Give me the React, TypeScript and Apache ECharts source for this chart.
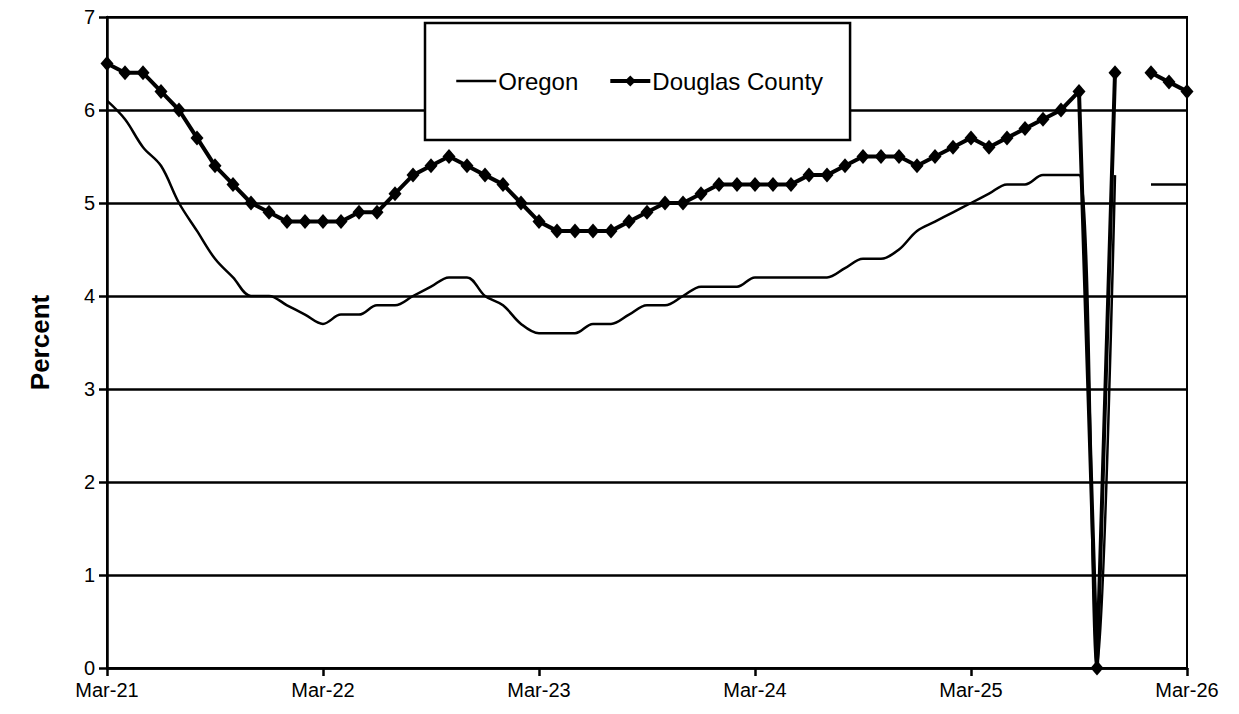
import React, { useEffect, useRef } from "react";
import * as echarts from "echarts";

const monthNames = ["Mar", "Apr", "May", "Jun", "Jul", "Aug", "Sep", "Oct", "Nov", "Dec", "Jan", "Feb"];
const startYear = 21;
const monthCount = 61;

const categories: string[] = [];
for (let i = 0; i < monthCount; i++) {
  const m = i % 12;
  const y = startYear + Math.floor(i / 12) + (m >= 10 ? 1 : 0);
  categories.push(`${monthNames[m]}-${y}`);
}

const oregon: (number | null)[] = [
  6.1, 5.9, 5.6, 5.4, 5.0, 4.7, 4.4, 4.2, 4.0, 4.0, 3.9, 3.8,
  3.7, 3.8, 3.8, 3.9, 3.9, 4.0, 4.1, 4.2, 4.2, 4.0, 3.9, 3.7,
  3.6, 3.6, 3.6, 3.7, 3.7, 3.8, 3.9, 3.9, 4.0, 4.1, 4.1, 4.1,
  4.2, 4.2, 4.2, 4.2, 4.2, 4.3, 4.4, 4.4, 4.5, 4.7, 4.8, 4.9,
  5.0, 5.1, 5.2, 5.2, 5.3, 5.3, 5.3, 0, 5.3, null, 5.2, 5.2,
  5.2,
];

const douglas: (number | null)[] = [
  6.5, 6.4, 6.4, 6.2, 6.0, 5.7, 5.4, 5.2, 5.0, 4.9, 4.8, 4.8,
  4.8, 4.8, 4.9, 4.9, 5.1, 5.3, 5.4, 5.5, 5.4, 5.3, 5.2, 5.0,
  4.8, 4.7, 4.7, 4.7, 4.7, 4.8, 4.9, 5.0, 5.0, 5.1, 5.2, 5.2,
  5.2, 5.2, 5.2, 5.3, 5.3, 5.4, 5.5, 5.5, 5.5, 5.4, 5.5, 5.6,
  5.7, 5.6, 5.7, 5.8, 5.9, 6.0, 6.2, 0, 6.4, null, 6.4, 6.3,
  6.2,
];

const FONT = "'Liberation Sans', Arial, sans-serif";

export default function App() {
  const ref = useRef<HTMLDivElement>(null);
  useEffect(() => {
    if (!ref.current) return;
    const chart = echarts.init(ref.current, undefined, { renderer: "svg" });
    chart.setOption({
      animation: false,
      backgroundColor: "#fff",
      textStyle: { fontFamily: FONT, color: "#000" },
      grid: {
        left: 107,
        right: 52,
        top: 17,
        bottom: 46,
        show: true,
        borderColor: "#000",
        borderWidth: 2,
      },
      legend: {
        left: 425,
        top: 23,
        padding: [46, 27, 47, 30],
        backgroundColor: "#fff",
        borderColor: "#000",
        borderWidth: 2.5,
        borderRadius: 0,
        itemWidth: 40,
        itemHeight: 14,
        itemGap: 30,
        textStyle: { fontFamily: FONT, fontSize: 24, color: "#000", padding: [0, 0, 0, -3] },
        data: [
          {
            name: "Oregon",
            itemStyle: { color: "rgba(0,0,0,0)", borderWidth: 0, opacity: 0 },
            lineStyle: { color: "#000", width: 2.5 },
          },
          {
            name: "Douglas County",
            itemStyle: { color: "#000", borderWidth: 0 },
            lineStyle: { color: "#000", width: 4 },
          },
        ],
      },
      xAxis: {
        type: "category",
        data: categories,
        boundaryGap: false,
        axisLine: { lineStyle: { color: "#000", width: 2.5 } },
        axisTick: { show: true, interval: 11, length: 8, inside: false, lineStyle: { color: "#000", width: 2.5 } },
        axisLabel: { interval: 11, fontSize: 20, color: "#000", fontFamily: FONT, margin: 12 },
        splitLine: { show: false },
      },
      yAxis: {
        type: "value",
        min: 0,
        max: 7,
        interval: 1,
        name: "Percent",
        nameLocation: "middle",
        nameGap: 54,
        nameTextStyle: { fontFamily: FONT, fontSize: 26, fontWeight: "bold", color: "#000" },
        axisLine: { show: true, lineStyle: { color: "#000", width: 2.5 } },
        axisTick: { show: true, length: 8, inside: false, lineStyle: { color: "#000", width: 2.5 } },
        axisLabel: { fontSize: 20, color: "#000", fontFamily: FONT, margin: 12 },
        splitLine: { show: true, lineStyle: { color: "#000", width: 2.5 } },
      },
      series: [
        {
          name: "Oregon",
          type: "line",
          data: oregon,
          smooth: 0.35,
          symbol: "none",
          connectNulls: false,
          lineStyle: { color: "#000", width: 2.5 },
          itemStyle: { color: "#000" },
          z: 3,
        },
        {
          name: "Douglas County",
          type: "line",
          data: douglas,
          smooth: false,
          symbol: "diamond",
          symbolSize: [13, 15],
          showSymbol: true,
          showAllSymbol: true,
          connectNulls: false,
          lineStyle: { color: "#000", width: 4 },
          itemStyle: { color: "#000", borderWidth: 0 },
          z: 4,
        },
      ],
    });
    return () => chart.dispose();
  }, []);
  return (
    <div
      ref={ref}
      style={{ position: "fixed", left: 0, top: 0, width: 1239, height: 714 }}
    />
  );
}
